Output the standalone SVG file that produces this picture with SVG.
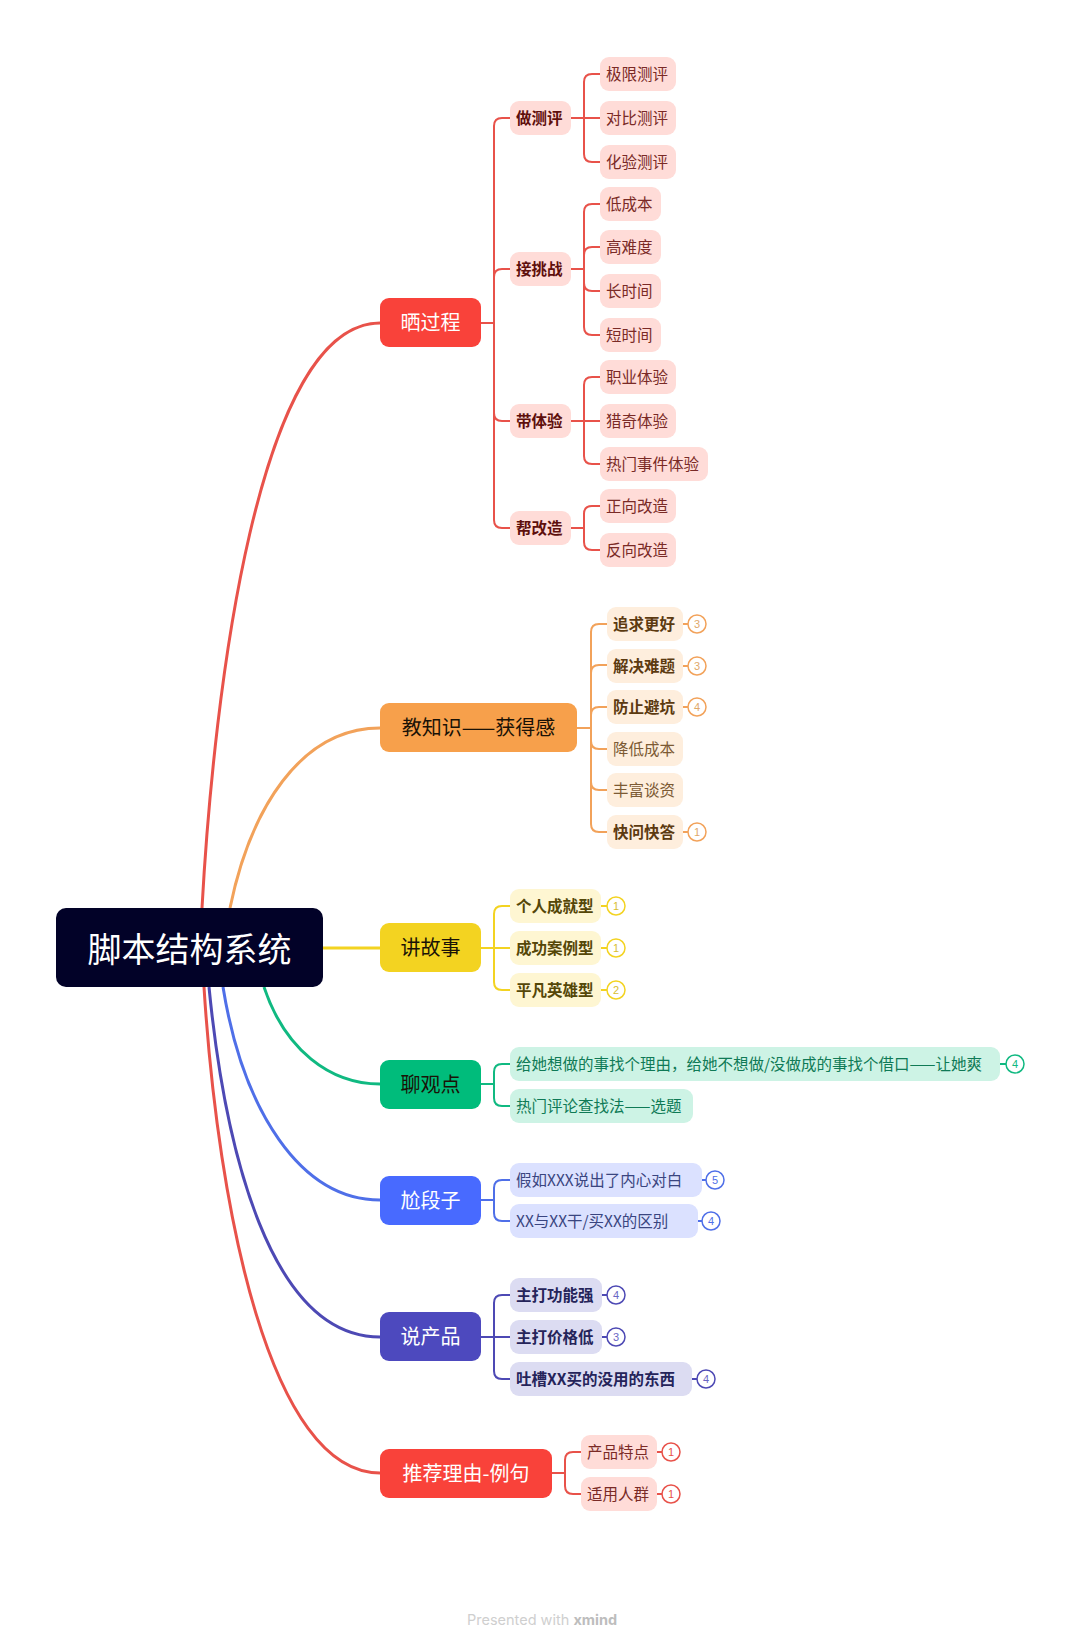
<svg xmlns="http://www.w3.org/2000/svg" width="1080" height="1647" viewBox="0 0 1080 1647">
<style>
text{font-family:"Noto Sans CJK SC","Noto Sans",sans-serif}
.c{fill:none;stroke-width:2;stroke-linecap:round}
.m{fill:none;stroke-width:3}
.r{stroke:#E8524A}.o{stroke:#F2A25A}.y{stroke:#F3D321}.g{stroke:#10B981}.b{stroke:#4F6FE8}.p{stroke:#4D49B4}
.t{font-size:20px;text-anchor:middle}
.w{fill:#fff}.k{fill:#1a1206}
.s{font-size:15.5px}
.bd{font-weight:700}
.n{font-size:11px;text-anchor:middle;font-family:"Liberation Sans",sans-serif}
.rf{fill:#FFDCD8}.of{fill:#FEEEDD}.yf{fill:#FEF6D2}.gf{fill:#CDF3E5}.bf{fill:#DBE1FF}.pf{fill:#DCDCF2}
.rt{fill:#7A2A26}.rd{fill:#5E0F0C}.ot{fill:#7C5A34}.od{fill:#5C3A10}.yd{fill:#554708}.gt{fill:#0F7A56}.bt{fill:#3A4580}.pd{fill:#25245A}
circle{fill:#fff;stroke-width:1.5}
</style>
<g id="connectors">
<path class="m r" d="M202 908C214 690 258 323 380 323"/>
<path class="m o" d="M230 908C250 810 300 728 380 728"/>
<path class="m y" d="M323 948H380"/>
<path class="m g" d="M264 987C285 1050 330 1084 380 1084"/>
<path class="m b" d="M223 987C243 1110 300 1200 380 1200"/>
<path class="m p" d="M209 987C225 1150 270 1337 380 1337"/>
<path class="m r" d="M204 987C218 1210 270 1473 380 1473"/>
<g class="r">
<path class="c" d="M481 323H494M494 323V126Q494 118 502 118H510M494 323V277Q494 269 502 269H510M494 323V413Q494 421 502 421H510M494 323V520Q494 528 502 528H510"/>
<path class="c" d="M571 118H600M584 118V82Q584 74 592 74H600M584 118V154Q584 162 592 162H600"/>
<path class="c" d="M571 269H584M584 269V212Q584 204 592 204H600M584 269V255Q584 247 592 247H600M584 269V283Q584 291 592 291H600M584 269V327Q584 335 592 335H600"/>
<path class="c" d="M571 421H600M584 421V385Q584 377 592 377H600M584 421V456Q584 464 592 464H600"/>
<path class="c" d="M571 528H584M584 528V514Q584 506 592 506H600M584 528V542Q584 550 592 550H600"/>
<path class="c" d="M552 1473H565M565 1473V1460Q565 1452 573 1452H581M565 1473V1486Q565 1494 573 1494H581"/>
<path class="c" d="M657 1452H662M657 1494H662"/>
</g>
<g class="o">
<path class="c" d="M577 728H591M591 728V632Q591 624 599 624H607M591 728V673Q591 665 599 665H607M591 728V715Q591 707 599 707H607M591 728V741Q591 749 599 749H607M591 728V782Q591 790 599 790H607M591 728V824Q591 832 599 832H607"/>
<path class="c" d="M683 624H688M683 666H688M683 707H688M683 832H688"/>
</g>
<g class="y">
<path class="c" d="M481 948H510M494 948V914Q494 906 502 906H510M494 948V982Q494 990 502 990H510"/>
<path class="c" d="M601 906H607M601 948H607M601 990H607"/>
</g>
<g class="g">
<path class="c" d="M481 1084H494M494 1084V1072Q494 1064 502 1064H510M494 1084V1098Q494 1106 502 1106H510"/>
<path class="c" d="M1000 1064H1006"/>
</g>
<g class="b">
<path class="c" d="M481 1200H494M494 1200V1188Q494 1180 502 1180H510M494 1200V1213Q494 1221 502 1221H510"/>
<path class="c" d="M702 1180H706M698 1221H702"/>
</g>
<g class="p">
<path class="c" d="M481 1337H510M494 1337V1303Q494 1295 502 1295H510M494 1337V1371Q494 1379 502 1379H510"/>
<path class="c" d="M602 1295H607M602 1337H607M692 1379H697"/>
</g>
</g>
<g id="root"><rect x="56" y="908" width="267" height="79" rx="10" fill="#020228"/><text x="189.500" y="962" font-size="34" text-anchor="middle" fill="#fff">脚本结构系统</text></g>

<g id="t1"><rect x="380" y="298" width="101" height="49" rx="9" fill="#F9423A"/><text class="t w" x="430.500" y="330">晒过程</text></g>
<g id="t1a"><rect class="rf" x="510" y="101" width="61" height="34" rx="9"/><text class="s bd rd" x="516" y="124">做测评</text></g>
<g id="t1a1"><rect class="rf" x="600" y="57" width="76" height="34" rx="9"/><text class="s rt" x="606" y="80">极限测评</text></g>
<g id="t1a2"><rect class="rf" x="600" y="101" width="76" height="34" rx="9"/><text class="s rt" x="606" y="124">对比测评</text></g>
<g id="t1a3"><rect class="rf" x="600" y="145" width="76" height="34" rx="9"/><text class="s rt" x="606" y="168">化验测评</text></g>
<g id="t1b"><rect class="rf" x="510" y="252" width="61" height="34" rx="9"/><text class="s bd rd" x="516" y="275">接挑战</text></g>
<g id="t1b1"><rect class="rf" x="600" y="187" width="61" height="34" rx="9"/><text class="s rt" x="606" y="210">低成本</text></g>
<g id="t1b2"><rect class="rf" x="600" y="230" width="61" height="34" rx="9"/><text class="s rt" x="606" y="253">高难度</text></g>
<g id="t1b3"><rect class="rf" x="600" y="274" width="61" height="34" rx="9"/><text class="s rt" x="606" y="297">长时间</text></g>
<g id="t1b4"><rect class="rf" x="600" y="318" width="61" height="34" rx="9"/><text class="s rt" x="606" y="341">短时间</text></g>
<g id="t1c"><rect class="rf" x="510" y="404" width="61" height="34" rx="9"/><text class="s bd rd" x="516" y="427">带体验</text></g>
<g id="t1c1"><rect class="rf" x="600" y="360" width="76" height="34" rx="9"/><text class="s rt" x="606" y="383">职业体验</text></g>
<g id="t1c2"><rect class="rf" x="600" y="404" width="76" height="34" rx="9"/><text class="s rt" x="606" y="427">猎奇体验</text></g>
<g id="t1c3"><rect class="rf" x="600" y="447" width="108" height="34" rx="9"/><text class="s rt" x="606" y="470">热门事件体验</text></g>
<g id="t1d"><rect class="rf" x="510" y="511" width="61" height="34" rx="9"/><text class="s bd rd" x="516" y="534">帮改造</text></g>
<g id="t1d1"><rect class="rf" x="600" y="489" width="76" height="34" rx="9"/><text class="s rt" x="606" y="512">正向改造</text></g>
<g id="t1d2"><rect class="rf" x="600" y="533" width="76" height="34" rx="9"/><text class="s rt" x="606" y="556">反向改造</text></g>

<g id="t2"><rect x="380" y="703" width="197" height="49" rx="9" fill="#F7A04B"/><text class="t k" x="478.500" y="735">教知识——获得感</text></g>
<g id="t2a"><rect class="of" x="607" y="607" width="76" height="34" rx="9"/><text class="s bd od" x="613" y="630">追求更好</text><circle class="o" cx="697" cy="624" r="9"/><text class="n" x="697" y="628" fill="#E0A86A">3</text></g>
<g id="t2b"><rect class="of" x="607" y="649" width="76" height="34" rx="9"/><text class="s bd od" x="613" y="672">解决难题</text><circle class="o" cx="697" cy="666" r="9"/><text class="n" x="697" y="670" fill="#E0A86A">3</text></g>
<g id="t2c"><rect class="of" x="607" y="690" width="76" height="34" rx="9"/><text class="s bd od" x="613" y="713">防止避坑</text><circle class="o" cx="697" cy="707" r="9"/><text class="n" x="697" y="711" fill="#E0A86A">4</text></g>
<g id="t2d"><rect class="of" x="607" y="732" width="76" height="34" rx="9"/><text class="s ot" x="613" y="755">降低成本</text></g>
<g id="t2e"><rect class="of" x="607" y="773" width="76" height="34" rx="9"/><text class="s ot" x="613" y="796">丰富谈资</text></g>
<g id="t2f"><rect class="of" x="607" y="815" width="76" height="34" rx="9"/><text class="s bd od" x="613" y="838">快问快答</text><circle class="o" cx="697" cy="832" r="9"/><text class="n" x="697" y="836" fill="#E0A86A">1</text></g>

<g id="t3"><rect x="380" y="923" width="101" height="49" rx="9" fill="#F3D321"/><text class="t k" x="430.500" y="955">讲故事</text></g>
<g id="t3a"><rect class="yf" x="510" y="889" width="91" height="34" rx="9"/><text class="s bd yd" x="516" y="912">个人成就型</text><circle class="y" cx="616" cy="906" r="9"/><text class="n" x="616" y="910" fill="#D8BE30">1</text></g>
<g id="t3b"><rect class="yf" x="510" y="931" width="91" height="34" rx="9"/><text class="s bd yd" x="516" y="954">成功案例型</text><circle class="y" cx="616" cy="948" r="9"/><text class="n" x="616" y="952" fill="#D8BE30">1</text></g>
<g id="t3c"><rect class="yf" x="510" y="973" width="91" height="34" rx="9"/><text class="s bd yd" x="516" y="996">平凡英雄型</text><circle class="y" cx="616" cy="990" r="9"/><text class="n" x="616" y="994" fill="#D8BE30">2</text></g>

<g id="t4"><rect x="380" y="1060" width="101" height="49" rx="9" fill="#00BC7B"/><text class="t k" x="430.500" y="1092">聊观点</text></g>
<g id="t4a"><rect class="gf" x="510" y="1047" width="490" height="34" rx="9"/><text class="s gt" x="516" y="1070">给她想做的事找个理由，给她不想做/没做成的事找个借口——让她爽</text><circle class="g" cx="1015" cy="1064" r="9"/><text class="n" x="1015" y="1068" fill="#10B981">4</text></g>
<g id="t4b"><rect class="gf" x="510" y="1089" width="183" height="34" rx="9"/><text class="s gt" x="516" y="1112">热门评论查找法——选题</text></g>

<g id="t5"><rect x="380" y="1176" width="101" height="49" rx="9" fill="#486AFF"/><text class="t w" x="430.500" y="1208">尬段子</text></g>
<g id="t5a"><rect class="bf" x="510" y="1163" width="192" height="34" rx="9"/><text class="s bt" x="516" y="1186">假如XXX说出了内心对白</text><circle class="b" cx="715" cy="1180" r="9"/><text class="n" x="715" y="1184" fill="#4F6FE8">5</text></g>
<g id="t5b"><rect class="bf" x="510" y="1204" width="188" height="34" rx="9"/><text class="s bt" x="516" y="1227">XX与XX干/买XX的区别</text><circle class="b" cx="711" cy="1221" r="9"/><text class="n" x="711" y="1225" fill="#4F6FE8">4</text></g>

<g id="t6"><rect x="380" y="1312" width="101" height="49" rx="9" fill="#4D49BE"/><text class="t w" x="430.500" y="1344">说产品</text></g>
<g id="t6a"><rect class="pf" x="510" y="1278" width="92" height="34" rx="9"/><text class="s bd pd" x="516" y="1301">主打功能强</text><circle class="p" cx="616" cy="1295" r="9"/><text class="n" x="616" y="1299" fill="#6A66C4">4</text></g>
<g id="t6b"><rect class="pf" x="510" y="1320" width="92" height="34" rx="9"/><text class="s bd pd" x="516" y="1343">主打价格低</text><circle class="p" cx="616" cy="1337" r="9"/><text class="n" x="616" y="1341" fill="#6A66C4">3</text></g>
<g id="t6c"><rect class="pf" x="510" y="1362" width="182" height="34" rx="9"/><text class="s bd pd" x="516" y="1385">吐槽XX买的没用的东西</text><circle class="p" cx="706" cy="1379" r="9"/><text class="n" x="706" y="1383" fill="#6A66C4">4</text></g>

<g id="t7"><rect x="380" y="1449" width="172" height="49" rx="9" fill="#F9423A"/><text class="t w" x="466" y="1481">推荐理由-例句</text></g>
<g id="t7a"><rect class="rf" x="581" y="1435" width="76" height="34" rx="9"/><text class="s rt" x="587" y="1458">产品特点</text><circle class="r" cx="671" cy="1452" r="9"/><text class="n" x="671" y="1456" fill="#E8524A">1</text></g>
<g id="t7b"><rect class="rf" x="581" y="1477" width="76" height="34" rx="9"/><text class="s rt" x="587" y="1500">适用人群</text><circle class="r" cx="671" cy="1494" r="9"/><text class="n" x="671" y="1498" fill="#E8524A">1</text></g>

<text id="footer" x="467" y="1625" font-size="14.500" fill="#CFCFCF" style="font-family:'Inter','Liberation Sans',sans-serif">Presented with <tspan font-weight="700" fill="#BDBDBD">xmind</tspan></text>
</svg>
